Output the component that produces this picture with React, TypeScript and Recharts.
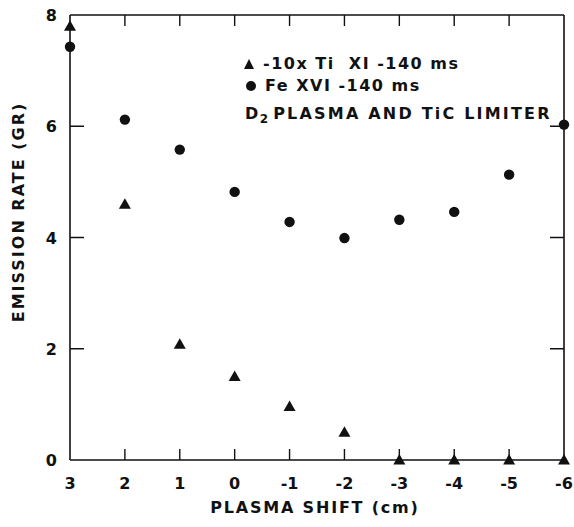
import React from 'react';
import { ScatterChart, Scatter, XAxis, YAxis, ZAxis, ReferenceLine } from 'recharts';

// plasma shift (cm), read left to right as drawn
const shifts = [3, 2, 1, 0, -1, -2, -3, -4, -5, -6];
// -10x Ti XI at 140 ms
const tiValues = [7.8, 4.6, 2.08, 1.5, 0.96, 0.5, 0, 0, 0, 0];
// Fe XVI at 140 ms
const feValues = [7.43, 6.12, 5.58, 4.82, 4.28, 3.99, 4.32, 4.46, 5.13, 6.03];

const xTicks = [3, 2, 1, 0, -1, -2, -3, -4, -5, -6];
const yTicks = [0, 2, 4, 6, 8];

const legendLines = ['-10x Ti  XI -140 ms', 'Fe XVI -140 ms', 'PLASMA AND TiC LIMITER'];

const tiData = shifts.map((x, i) => ({ x, y: tiValues[i] }));
const feData = shifts.map((x, i) => ({ x, y: feValues[i] }));

const W = 574;
const H = 527;
const M = { top: 15, right: 10, bottom: 0, left: 0 };
const Y_AXIS_W = 70;
const X_AXIS_H = 67;
const PLOT_W = W - M.right - Y_AXIS_W;
const PLOT_H = H - M.top - X_AXIS_H;

const FONT = '"DejaVu Sans", Verdana, sans-serif';
const INK = '#111';

const Triangle = (props: any) => {
  const { cx, cy } = props;
  const s = 6;
  return <polygon points={`${cx},${cy - s} ${cx - s},${cy + s * 0.75} ${cx + s},${cy + s * 0.75}`} fill={INK} />;
};

const Dot = (props: any) => {
  const { cx, cy } = props;
  return <circle cx={cx} cy={cy} r={5.2} fill={INK} />;
};

// bottom tick label + inward tick, plus the matching tick on the top frame edge
const BottomTick = (props: any) => {
  const { x, y, payload } = props;
  const v = Number(payload.value);
  const inner = v < 3 && v > -6;
  return (
    <g>
      {inner ? <path d={`M${x},${y}v-11M${x},${y - PLOT_H}v11`} stroke={INK} strokeWidth={1.4} fill="none" /> : null}
      <text x={x} y={y + 29} textAnchor="middle" fontSize={16} fontWeight="bold" fontFamily={FONT} fill={INK}>
        {v}
      </text>
    </g>
  );
};

// left tick label + inward tick, plus the matching tick on the right frame edge
const LeftTick = (props: any) => {
  const { x, y, payload } = props;
  const v = Number(payload.value);
  const inner = v > 0 && v < 8;
  return (
    <g>
      {inner ? <path d={`M${x},${y}h14M${x + PLOT_W},${y}h-14`} stroke={INK} strokeWidth={1.4} fill="none" /> : null}
      <text x={x - 13} y={y + 6} textAnchor="end" fontSize={16} fontWeight="bold" fontFamily={FONT} fill={INK}>
        {v}
      </text>
    </g>
  );
};

const titleStyle = { fontSize: 16, fontWeight: 'bold', fontFamily: FONT, fill: INK, letterSpacing: 1.8 } as const;

const XTitle = () => (
  <text x={315} y={513} textAnchor="middle" {...titleStyle}>
    PLASMA SHIFT (cm)
  </text>
);

const YTitle = () => (
  <text x={24} y={212} transform="rotate(-90 24 212)" textAnchor="middle" {...titleStyle} letterSpacing={2}>
    EMISSION RATE (GR)
  </text>
);

const axisLine = { stroke: INK, strokeWidth: 1.6 };

export default function App() {
  return (
    <div style={{ position: 'absolute', left: 0, top: 0, width: W, height: H, background: '#fff' }}>
      <ScatterChart width={W} height={H} margin={M}>
        <XAxis
          dataKey="x"
          type="number"
          domain={[-6, 3]}
          reversed
          ticks={xTicks}
          interval={0}
          height={X_AXIS_H}
          tickSize={0}
          tickMargin={0}
          axisLine={axisLine}
          tick={<BottomTick />}
          label={{ content: <XTitle /> }}
        />
        <YAxis
          dataKey="y"
          type="number"
          domain={[0, 8]}
          ticks={yTicks}
          interval={0}
          width={Y_AXIS_W}
          tickSize={0}
          tickMargin={0}
          axisLine={axisLine}
          tick={<LeftTick />}
          label={{ content: <YTitle /> }}
        />
        <ZAxis range={[60, 60]} />
        {/* frame: top and right edges */}
        <ReferenceLine y={8} stroke={INK} strokeWidth={1.6} ifOverflow="visible" />
        <ReferenceLine x={-6} stroke={INK} strokeWidth={1.6} ifOverflow="visible" />
        <Scatter name="Ti XI" data={tiData} shape={<Triangle />} isAnimationActive={false} />
        <Scatter name="Fe XVI" data={feData} shape={<Dot />} isAnimationActive={false} />
      </ScatterChart>
      <div
        style={{
          position: 'absolute',
          left: 241,
          top: 52,
          fontFamily: FONT,
          fontWeight: 'bold',
          fontSize: 16,
          letterSpacing: 1.5,
          color: INK,
          lineHeight: '24px',
          whiteSpace: 'pre',
        }}
      >
        <div style={{ paddingLeft: 2 }}>
          <span style={{ display: 'inline-block', width: 0, height: 0, borderLeft: '5px solid transparent', borderRight: '5px solid transparent', borderBottom: `10px solid ${INK}`, marginRight: 9, marginLeft: 1 }} />
          {legendLines[0]}
        </div>
        <div style={{ marginTop: -2 }}>
          <span style={{ display: 'inline-block', width: 10, height: 10, borderRadius: 5, background: INK, marginRight: 9, marginLeft: 5 }} />
          {legendLines[1]}
        </div>
        <div style={{ marginTop: 4, paddingLeft: 4 }}>
          D<sub style={{ fontSize: 12, letterSpacing: 0 }}>2</sub>
          <span style={{ letterSpacing: 2.2, marginLeft: 5 }}>{legendLines[2]}</span>
        </div>
      </div>
    </div>
  );
}
